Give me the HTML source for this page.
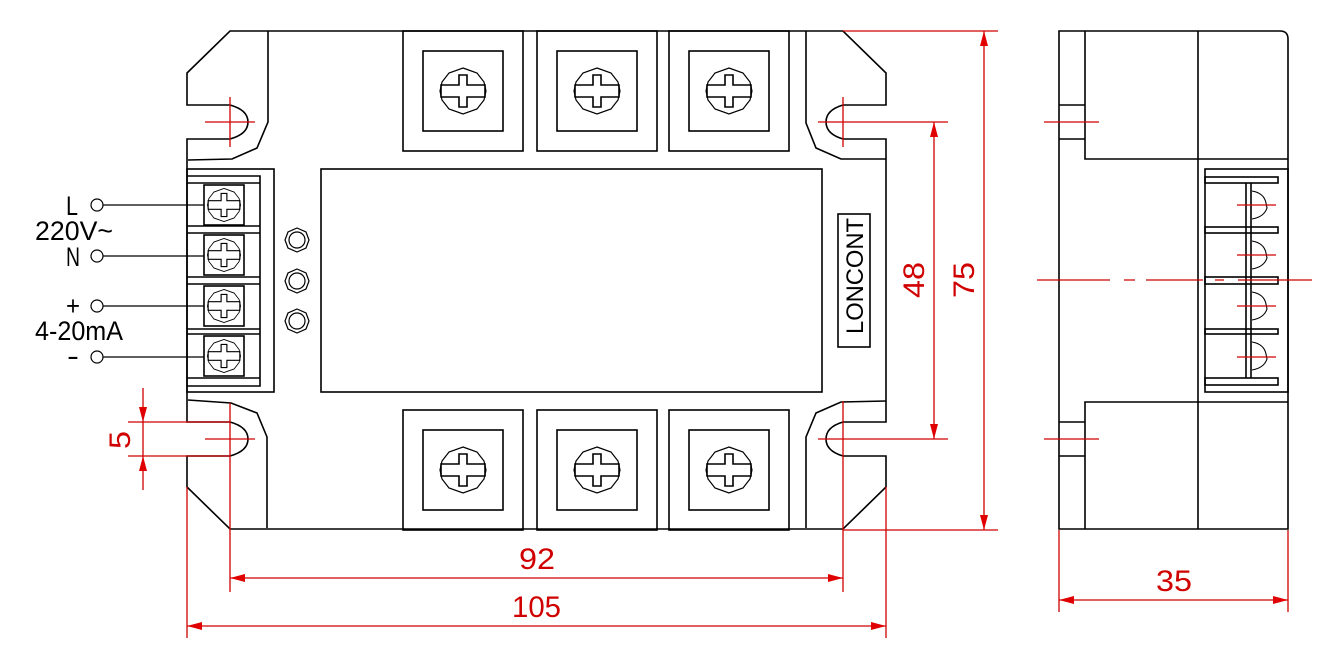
<!DOCTYPE html>
<html><head><meta charset="utf-8"><style>
html,body{margin:0;padding:0;background:#fff;}
svg{display:block;}
text{font-family:"Liberation Sans",sans-serif;}
</style></head><body>
<svg width="1341" height="665" viewBox="0 0 1341 665" xmlns="http://www.w3.org/2000/svg">
<defs>
<g id="scr">
<polygon points="0,-23 14,-18 21,-9 23,0 21,9 14,18 0,23 -14,18 -21,9 -23,0 -21,-9 -14,-18" fill="none" stroke="#000" stroke-width="1.2"/>
<polygon points="-4,-16 4,-16 4,-6 22,-6 22,6 4,6 4,16 -4,16 -4,6 -22,6 -22,-6 -4,-6" fill="none" stroke="#000" stroke-width="1.6"/>
</g>
<g id="bigterm">
<rect x="0" y="0" width="120" height="120" fill="none" stroke="#000" stroke-width="1.6"/>
<rect x="20" y="20" width="80" height="80" fill="none" stroke="#000" stroke-width="1.6"/>
<use href="#scr" x="60" y="60"/>
</g>
<g id="smterm">
<rect x="0" y="0" width="40" height="40" fill="none" stroke="#000" stroke-width="1.6"/>
<use href="#scr" x="20" y="20" transform="translate(20 20) scale(0.72) translate(-20 -20)"/>
</g>
<g id="led"><polygon points="0,-12 9,-8 12,0 9,8 0,12 -9,8 -12,0 -9,-8" fill="none" stroke="#000" stroke-width="1.2"/><circle r="8" fill="none" stroke="#000" stroke-width="1.2"/></g>
<polygon id="ar" points="0,0 -15,-4 -15,4" fill="#e00000"/>
</defs>

<g fill="none" stroke="#000" stroke-width="1.6">
<!-- outline -->
<path d="M230,31 L843,31 L886,73 L886,105 L843,105 Q826,110 826,122 Q826,134 843,139 L886,139 L886,422 L843,422 Q826,427 826,439 Q826,451 843,456 L886,456 L886,487 L843,529 L230,529 L187,487 L187,456 L230,456 Q248,451 248,439 Q248,427 230,422 L187,422 L187,139 L230,139 Q248,134 248,122 Q248,110 230,105 L187,105 L187,73 Z"/>
<path d="M268,31 L268,122 L257,148 L232,159 L188,160"/>
<path d="M188,400 L231,403 L257,413 L267,437 L267,528"/>
<path d="M806,31 L806,123 L816,148 L841,159 L886,159"/>
<path d="M886,401 L841,402 L816,413 L806,437 L806,528"/>
<!-- terminal strip -->
<rect x="187" y="169" width="87" height="223"/>
<path d="M187,176H260V386H187 M187,183H260 M187,226H260 M187,233H260 M187,277H260 M187,284H260 M187,329H260 M187,334H260 M187,378H260"/>
<!-- display -->
<rect x="321" y="169" width="501" height="223"/>
<rect x="838" y="214" width="32" height="133"/>
<!-- wires -->
<path d="M103,205H204 M103,256H204 M103,306H204 M103,357H204" stroke-width="1.3"/>
<circle cx="97" cy="205" r="6" stroke-width="1.2"/>
<circle cx="97" cy="256" r="6" stroke-width="1.2"/>
<circle cx="97" cy="306" r="6" stroke-width="1.2"/>
<circle cx="97" cy="357" r="6" stroke-width="1.2"/>
</g>
<use href="#smterm" x="204" y="185"/>
<use href="#smterm" x="204" y="235"/>
<use href="#smterm" x="204" y="286"/>
<use href="#smterm" x="204" y="336"/>
<use href="#led" x="297" y="240"/>
<use href="#led" x="297" y="281"/>
<use href="#led" x="297" y="321"/>
<use href="#bigterm" x="403" y="31"/>
<use href="#bigterm" x="537" y="31"/>
<use href="#bigterm" x="669" y="31"/>
<use href="#bigterm" x="403" y="410"/>
<use href="#bigterm" x="537" y="410"/>
<use href="#bigterm" x="669" y="410"/>
<!-- cover extra bottom/top lines overlapping: boxes fine -->

<text x="0" y="0" font-size="24" fill="#000" transform="translate(863,334) rotate(-90)" textLength="116" lengthAdjust="spacingAndGlyphs">LONCONT</text>

<g font-size="27" fill="#000">
<text x="66" y="215" textLength="12" lengthAdjust="spacingAndGlyphs">L</text>
<text x="35" y="240" textLength="78" lengthAdjust="spacingAndGlyphs">220V~</text>
<text x="66" y="266" textLength="14" lengthAdjust="spacingAndGlyphs">N</text>
<text x="66" y="315" textLength="14" lengthAdjust="spacingAndGlyphs">+</text>
<text x="35" y="340" textLength="88" lengthAdjust="spacingAndGlyphs">4-20mA</text>
<text x="67" y="365" textLength="12" lengthAdjust="spacingAndGlyphs">-</text>
</g>

<!-- side view -->
<g fill="none" stroke="#000" stroke-width="1.6">
<path d="M1059,31 H1280 Q1288,31 1288,39 V529 H1059 Z"/>
<path d="M1085,31 V159 H1288 M1059,105 H1085 M1059,139 H1085"/>
<path d="M1085,529 V402 H1288 M1059,422 H1085 M1059,456 H1085"/>
<path d="M1198,31 V529"/>
<rect x="1205" y="169" width="83" height="223"/>
<rect x="1205" y="177" width="73" height="6"/>
<rect x="1205" y="227" width="73" height="6"/>
<rect x="1205" y="277" width="73" height="7"/>
<rect x="1205" y="329" width="73" height="5"/>
<rect x="1205" y="378" width="73" height="7"/>
<path d="M1246,183 V378 M1251,183 V378"/>
<path d="M1252,191 Q1264,193 1266,203 L1267,208 Q1264,217 1252,219 M1252,241 Q1264,243 1266,253 L1267,258 Q1264,267 1252,269 M1252,292 Q1264,294 1266,304 L1267,309 Q1264,318 1252,320 M1252,342 Q1264,344 1266,354 L1267,359 Q1264,368 1252,370" stroke-width="1.1"/>
</g>

<!-- red dims -->
<g stroke="#d00000" stroke-width="1.3" fill="none">
<path d="M205,122H255 M230,97V147 M205,439H255 M230,403V592"/>
<path d="M818,122H948 M843,97V147 M818,439H948 M843,401V592"/>
<path d="M843,31H998 M843,530H998 M984,31V530 M934,122V439"/>
<path d="M230,578H843 M187,487V638 M886,487V638 M187,626H886"/>
<path d="M128,422H230 M128,456H230 M143,388V490"/>
<path d="M1044,122H1099 M1044,439H1099 M1237,205H1276 M1237,255H1276 M1237,306H1276 M1237,357H1276"/>
<path d="M1037,280H1110 M1124,280H1135 M1146,280H1203 M1215,280H1224 M1238,280H1312"/>
<path d="M1059,530V612 M1288,530V612 M1059,600H1288"/>
</g>
<g>
<use href="#ar" transform="translate(984,31) rotate(-90)"/>
<use href="#ar" transform="translate(984,530) rotate(90)"/>
<use href="#ar" transform="translate(934,122) rotate(-90)"/>
<use href="#ar" transform="translate(934,439) rotate(90)"/>
<use href="#ar" transform="translate(230,578) rotate(180)"/>
<use href="#ar" transform="translate(843,578)"/>
<use href="#ar" transform="translate(187,626) rotate(180)"/>
<use href="#ar" transform="translate(886,626)"/>
<use href="#ar" transform="translate(143,422) rotate(90)"/>
<use href="#ar" transform="translate(143,456) rotate(-90)"/>
<use href="#ar" transform="translate(1059,600) rotate(180)"/>
<use href="#ar" transform="translate(1288,600)"/>
</g>
<g font-size="30" fill="#d00000">
<text x="519" y="569" textLength="36" lengthAdjust="spacingAndGlyphs">92</text>
<text x="512" y="617" textLength="49" lengthAdjust="spacingAndGlyphs">105</text>
<text x="1156" y="591" textLength="36" lengthAdjust="spacingAndGlyphs">35</text>
<text transform="translate(924,298) rotate(-90)" textLength="36" lengthAdjust="spacingAndGlyphs">48</text>
<text transform="translate(974,298) rotate(-90)" textLength="36" lengthAdjust="spacingAndGlyphs">75</text>
<text transform="translate(130,449) rotate(-90)" textLength="18" lengthAdjust="spacingAndGlyphs">5</text>
</g>
</svg>
</body></html>
